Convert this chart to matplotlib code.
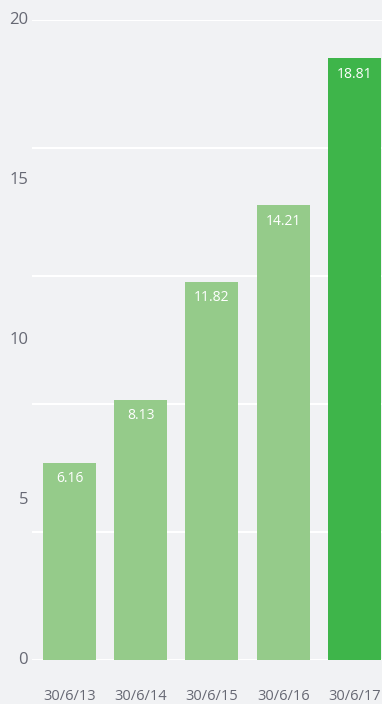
import matplotlib.pyplot as plt

dates = ['30/6/13', '30/6/14', '30/6/15', '30/6/16', '30/6/17']
values = [6.16, 8.13, 11.82, 14.21, 18.81]
colors = ['#95cb8a', '#95cb8a', '#95cb8a', '#95cb8a', '#3eb54a']

plt.rcParams['font.family'] = ['Open Sans', 'DejaVu Sans']
bg = '#f1f2f4'
txt = '#666873'

fig = plt.figure(figsize=(3.82, 7.04), dpi=100, facecolor=bg)
ax = fig.add_axes([32 / 382, 44 / 704, 350 / 382, 640 / 704], facecolor=bg)

x = list(range(len(dates)))
bars = ax.bar(x, values, width=0.744, color=colors, zorder=3)

for b, v in zip(bars, values):
    ax.annotate(f'{v:.2f}', (b.get_x() + b.get_width() / 2, v),
                xytext=(0, -11.5), textcoords='offset points', ha='center', va='center',
                color='white', fontsize=10, zorder=4)

ax.set_xlim(-0.526, 4.386)
ax.set_ylim(0, 20)
ax.set_yticks([0, 4, 8, 12, 16, 20])
ax.set_yticklabels([])
ax.tick_params(axis='y', length=0)
ax.grid(axis='y', color='white', linewidth=1.5, zorder=0)

# y labels every 5 though gridlines every 4
for t in [0, 5, 10, 15, 20]:
    ax.text(-0.58, t, str(t), ha='right', va='center', fontsize=12, color=txt,
            transform=ax.transData, clip_on=False)

ax.set_xticks(x)
ax.set_xticklabels(dates, fontsize=10.5, color=txt)
ax.tick_params(axis='x', length=0, pad=21)

for s in ax.spines.values():
    s.set_visible(False)

fig.savefig('out.png', dpi=100, facecolor=bg)
